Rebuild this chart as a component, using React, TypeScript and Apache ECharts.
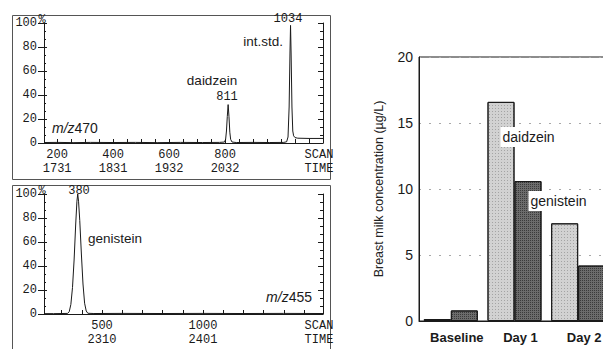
import React, { useEffect, useRef } from 'react';
import * as echarts from 'echarts';

// Chromatogram m/z 470 (scan number, relative intensity %)
const trace470: [number, number][] = [
  [153, 0.4], [200, 0.5], [260, 0.3], [320, 0.5], [400, 0.4], [480, 0.5], [560, 0.3],
  [640, 0.5], [720, 0.4], [780, 0.5], [798, 0.8], [802, 3], [805, 10], [808, 22],
  [811, 32], [814, 22], [817, 9], [820, 3], [825, 0.8], [840, 0.4], [900, 0.5],
  [960, 0.4], [1010, 0.5], [1020, 1], [1025, 5], [1029, 30], [1032, 75], [1034, 98],
  [1036, 75], [1039, 30], [1042, 10], [1045, 6], [1050, 4.5], [1060, 4], [1100, 3.8],
  [1150, 3.8],
];

// Chromatogram m/z 455
const trace455: [number, number][] = [
  [213, 0.3], [260, 0.3], [300, 0.4], [330, 0.5], [338, 2], [346, 8], [354, 22],
  [362, 45], [370, 75], [376, 94], [380, 100], [384, 94], [390, 78], [398, 50],
  [406, 25], [414, 9], [422, 2.5], [430, 0.6], [460, 0.4], [600, 0.5], [800, 0.4],
  [1000, 0.5], [1200, 0.4], [1400, 0.5], [1594, 0.4],
];

const scanTicks470 = [200, 400, 600, 800];
const scanTimes470 = ['1731', '1831', '1932', '2032'];
const scanTicks455 = [500, 1000];
const scanTimes455 = ['2310', '2401'];
const minorScan470 = [200, 250, 300, 350, 400, 450, 500, 550, 600, 650, 700, 750, 800, 850, 900, 950, 1000, 1050, 1100];
const minorScan455 = [300, 400, 500, 600, 700, 800, 900, 1000, 1100, 1200, 1300, 1400, 1500];

const barCategories = ['Baseline', 'Day 1', 'Day 2'];
const daidzein = [0.15, 16.6, 7.4];
const genistein = [0.8, 10.6, 4.2];

const MONO = '"Liberation Mono", "DejaVu Sans Mono", monospace';
const SANS = '"Liberation Sans", Arial, sans-serif';
const INK = '#1a1a1a';

function leftAxes(gridIndex: number) {
  return [
    {
      gridIndex, type: 'value', min: 0, max: 100, interval: 20, position: 'left',
      axisLine: { show: true, lineStyle: { color: INK, width: 1 } },
      axisTick: { show: true, length: 6, lineStyle: { color: INK } },
      axisLabel: { fontFamily: MONO, fontSize: 12, color: INK, margin: 7, padding: [0, 0, 4, 0] },
      splitLine: { show: false },
    },
    {
      gridIndex, type: 'value', min: 0, max: 100, interval: 20, position: 'left',
      axisLine: { show: false },
      axisTick: { show: true, inside: true, length: 3, lineStyle: { color: INK } },
      minorTick: { show: true, splitNumber: 3, length: 2, lineStyle: { color: INK } },
      axisLabel: { show: false },
      splitLine: { show: false },
    },
    {
      gridIndex, type: 'value', min: 0, max: 100, interval: 20, position: 'right',
      axisLine: { show: true, lineStyle: { color: INK, width: 1 } },
      axisTick: { show: true, inside: true, length: 5, lineStyle: { color: INK } },
      minorTick: { show: true, splitNumber: 3, length: 3, lineStyle: { color: INK } },
      axisLabel: { show: false },
      splitLine: { show: false },
    },
  ];
}

function scanAxis(gridIndex: number, min: number, max: number, ticks: number[], times: string[], minor: number[]) {
  return {
    gridIndex, type: 'value', min, max,
    axisLine: { show: true, onZero: false, lineStyle: { color: INK, width: 1 } },
    axisTick: { show: true, inside: true, length: 4, customValues: minor, lineStyle: { color: INK } },
    axisLabel: {
      customValues: ticks,
      formatter: (v: number) => `${v}\n${times[ticks.indexOf(v)] ?? ''}`,
      fontFamily: MONO, fontSize: 12, lineHeight: 14, color: INK, margin: 5,
      showMinLabel: true, showMaxLabel: true, hideOverlap: false,
    },
    splitLine: { show: false },
  };
}

function txt(x: number, y: number, text: string, font: string, align = 'left', extra: any = {}) {
  return {
    type: 'text', x, y, z: 50,
    style: { text, font, fill: INK, align, verticalAlign: 'middle', ...extra },
  };
}

export default function App() {
  const ref = useRef<HTMLDivElement>(null);
  useEffect(() => {
    if (!ref.current) return;
    const chart = echarts.init(ref.current, null, { renderer: 'svg' });
    const monoFont = `12px ${MONO}`;
    const sansFont = `13.5px ${SANS}`;
    const option: any = {
      animation: false,
      backgroundColor: '#ffffff',
      grid: [
        { left: 44, top: 23, width: 279, height: 120, outerBoundsMode: 'none' },
        { left: 44, top: 194, width: 279, height: 120, outerBoundsMode: 'none' },
        { left: 419, top: 57, width: 191, height: 264, show: true, borderColor: INK, borderWidth: 1, outerBoundsMode: 'none' },
      ],
      xAxis: [
        scanAxis(0, 153, 1150, scanTicks470, scanTimes470, minorScan470),
        scanAxis(1, 213, 1594, scanTicks455, scanTimes455, minorScan455),
        {
          gridIndex: 2, type: 'category', data: barCategories,
          axisLine: { show: true, lineStyle: { color: INK, width: 1 } },
          axisTick: { show: false },
          axisLabel: { interval: 0, fontFamily: SANS, fontWeight: 'bold', fontSize: 13, color: INK, margin: 10, padding: [0, 0, 0, 12] },
        },
      ],
      yAxis: [
        ...leftAxes(0),
        ...leftAxes(1),
        {
          gridIndex: 2, type: 'value', min: 0, max: 20, interval: 5,
          axisLine: { show: true, lineStyle: { color: INK, width: 1 } },
          axisTick: { show: false },
          axisLabel: { fontFamily: SANS, fontSize: 14, color: INK, margin: 6 },
          splitLine: { show: true, lineStyle: { color: '#a8a8a8', type: [2, 8], width: 1 } },
          name: 'Breast milk concentration (µg/L)', nameLocation: 'middle', nameGap: 34,
          nameTextStyle: { fontFamily: SANS, fontSize: 12.5, color: '#222' },
        },
      ],
      series: [
        {
          type: 'line', xAxisIndex: 0, yAxisIndex: 0, data: trace470, showSymbol: false,
          lineStyle: { color: INK, width: 1 }, silent: true,
        },
        {
          type: 'line', xAxisIndex: 1, yAxisIndex: 3, data: trace455, showSymbol: false,
          lineStyle: { color: INK, width: 1 }, silent: true,
        },
        {
          type: 'bar', name: 'daidzein', xAxisIndex: 2, yAxisIndex: 6, barWidth: 27, barGap: '0%',
          itemStyle: {
            color: '#d2d2d2', borderColor: INK, borderWidth: 1,
            decal: { symbol: 'rect', symbolSize: 1, color: 'rgba(0,0,0,0.22)', dashArrayX: [1, 2], dashArrayY: [1, 2], rotation: 0 },
          },
          data: daidzein.map((v, i) => i === 1 ? {
            value: v,
            label: {
              show: true, position: [13, 25], formatter: 'daidzein', align: 'left', verticalAlign: 'top',
              fontFamily: SANS, fontSize: 14, color: INK, backgroundColor: '#ffffff', padding: [3, 2, 3, 2],
            },
          } : v),
        },
        {
          type: 'bar', name: 'genistein', xAxisIndex: 2, yAxisIndex: 6, barWidth: 27, barGap: '0%',
          itemStyle: {
            color: '#6c6c6c', borderColor: INK, borderWidth: 1,
            decal: { symbol: 'rect', symbolSize: 1, color: 'rgba(0,0,0,0.45)', dashArrayX: [1, 1], dashArrayY: [1, 1], rotation: 0 },
          },
          data: genistein.map((v, i) => i === 1 ? {
            value: v,
            label: {
              show: true, position: [14, 10], formatter: 'genistein', align: 'left', verticalAlign: 'top',
              fontFamily: SANS, fontSize: 14, color: INK, backgroundColor: '#ffffff', padding: [3, 2, 3, 2],
            },
          } : v),
        },
      ],
      graphic: {
        elements: [
          { type: 'rect', shape: { x: 12.5, y: 15.5, width: 318, height: 164 }, style: { fill: 'none', stroke: '#555', lineWidth: 1 }, z: 40 },
          { type: 'rect', shape: { x: 12.5, y: 185.5, width: 318, height: 200 }, style: { fill: 'none', stroke: '#555', lineWidth: 1 }, z: 40 },
          txt(42, 20, '%', monoFont, 'center'),
          txt(42, 191, '%', monoFont, 'center'),
          txt(212, 80, 'daidzein', sansFont, 'center'),
          txt(227, 97, '811', monoFont, 'center'),
          txt(283, 41, 'int.std.', sansFont, 'right'),
          txt(288, 19, '1034', monoFont, 'center'),
          {
            type: 'text', x: 52, y: 128, z: 50,
            style: {
              text: '{i|m/z}{n|470}', verticalAlign: 'middle', fill: INK,
              rich: { i: { fontFamily: SANS, fontSize: 14, fontStyle: 'italic', fill: INK }, n: { fontFamily: SANS, fontSize: 14, fill: INK } },
            },
          },
          txt(319, 155, 'SCAN', monoFont, 'center'),
          txt(319, 169, 'TIME', monoFont, 'center'),
          txt(79, 191, '380', monoFont, 'center'),
          txt(88, 238, 'genistein', sansFont, 'left'),
          {
            type: 'text', x: 312, y: 297, z: 50,
            style: {
              text: '{i|m/z}{n|455}', align: 'right', verticalAlign: 'middle', fill: INK,
              rich: { i: { fontFamily: SANS, fontSize: 14, fontStyle: 'italic', fill: INK }, n: { fontFamily: SANS, fontSize: 14, fill: INK } },
            },
          },
          txt(319, 326, 'SCAN', monoFont, 'center'),
          txt(319, 340, 'TIME', monoFont, 'center'),
        ],
      },
    };
    chart.setOption(option);
    return () => chart.dispose();
  }, []);
  return (
    <div style={{ position: 'fixed', left: 0, top: 0, width: 603, height: 349, background: '#fff' }}>
      <div ref={ref} style={{ width: 603, height: 349 }} />
    </div>
  );
}
